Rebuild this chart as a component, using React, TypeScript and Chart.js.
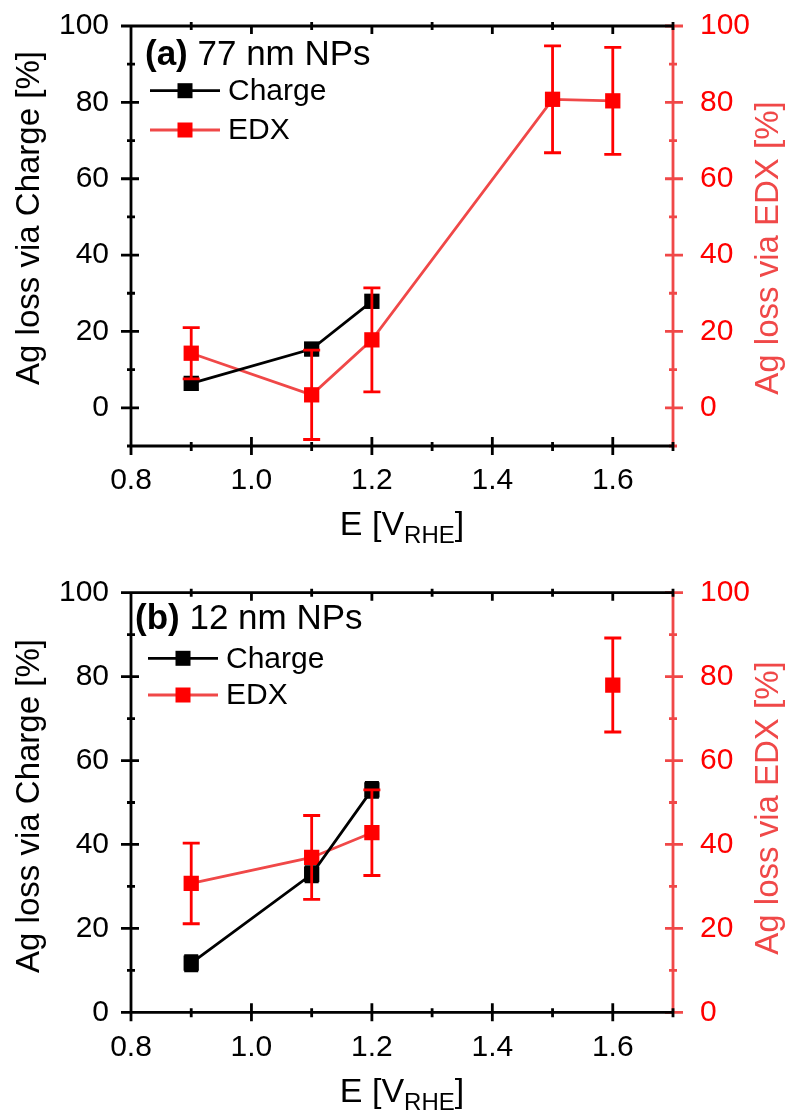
import React, { useEffect, useRef } from "react";
import { Chart, registerables } from "chart.js";

Chart.register(...registerables);

const FONT = '"Liberation Sans", Arial, Helvetica, sans-serif';

// Axis ticks
const X_MAJOR = [0.8, 1.0, 1.2, 1.4, 1.6];
const X_MINOR = [0.9, 1.1, 1.3, 1.5, 1.7];
const Y_MAJOR = [0, 20, 40, 60, 80, 100];
const Y_MINOR_A = [-10, 10, 30, 50, 70, 90];
const Y_MINOR_B = [10, 30, 50, 70, 90];

// Panel (a) 77 nm NPs
const A_CHARGE_E = [0.9, 1.1, 1.2];
const A_CHARGE = [6.4, 15.4, 27.9];
const A_CHARGE_ERR = [1.5, 1.5, 1.5];
const A_EDX_E = [0.9, 1.1, 1.2, 1.5, 1.6];
const A_EDX = [14.3, 3.4, 17.8, 80.8, 80.4];
const A_EDX_ERR = [6.7, 11.7, 13.6, 14.0, 14.0];

// Panel (b) 12 nm NPs
const B_CHARGE_E = [0.9, 1.1, 1.2];
const B_CHARGE = [11.7, 32.9, 53.0];
const B_CHARGE_ERR = [1.8, 1.8, 1.8];
const B_EDX_E = [0.9, 1.1, 1.2, 1.6];
const B_EDX = [30.7, 36.9, 42.8, 78.0];
const B_EDX_ERR = [9.6, 10.0, 10.2, 11.2];
const B_EDX_JOINED = 3; // number of leading EDX points joined by a line

const W = 790;
const PLOT_L = 131;
const PLOT_R = 673;
const RED = "#ff0000";
const RED_SOFT = "#f04848";
const LW = 2.8;

type PanelCfg = {
  top: number;
  height: number;
  plotTop: number;
  plotBottom: number;
  yMin: number;
  yMinor: number[];
  tag: string;
  tagRest: string;
  tagX: number;
  tagBaseline: number;
  legendX: number;
  legendY1: number;
  legendY2: number;
  leftTitleCenter: number;
  rightTitleCenter: number;
  xTitleBaseline: number;
  chargeE: number[];
  charge: number[];
  chargeErr: number[];
  edxE: number[];
  edx: number[];
  edxErr: number[];
  edxJoined: number;
};

function pts(xs: number[], ys: number[]) {
  return xs.map((x, i) => ({ x, y: ys[i] }));
}

function Panel({ cfg }: { cfg: PanelCfg }) {
  const ref = useRef<HTMLCanvasElement | null>(null);
  useEffect(() => {
    const canvas = ref.current;
    if (!canvas) return;
    const ctx = canvas.getContext("2d");
    if (!ctx) return;

    const edxPts = pts(cfg.edxE, cfg.edx);
    const datasets: any[] = [
      {
        label: "Charge",
        data: pts(cfg.chargeE, cfg.charge),
        yAxisID: "y",
        borderColor: "#000",
        borderWidth: LW,
        pointStyle: "rect",
        pointRadius: 10.8,
        pointBackgroundColor: "#000",
        pointBorderWidth: 0,
        fill: false,
        tension: 0,
      },
      {
        label: "EDX",
        data: edxPts.slice(0, cfg.edxJoined),
        yAxisID: "y2",
        borderColor: RED_SOFT,
        borderWidth: LW,
        pointStyle: "rect",
        pointRadius: 10.8,
        pointBackgroundColor: RED,
        pointBorderWidth: 0,
        fill: false,
        tension: 0,
      },
    ];
    if (edxPts.length > cfg.edxJoined) {
      datasets.push({
        label: "EDX2",
        data: edxPts.slice(cfg.edxJoined),
        yAxisID: "y2",
        showLine: false,
        borderColor: RED_SOFT,
        pointStyle: "rect",
        pointRadius: 10.8,
        pointBackgroundColor: RED,
        pointBorderWidth: 0,
      });
    }

    const deco = {
      id: "deco",
      afterDatasetsDraw(chart: any) {
        const c = chart.ctx;
        const xs = chart.scales.x;
        const yl = chart.scales.y;
        const yr = chart.scales.y2;
        c.save();
        const bars = (e: number[], v: number[], err: number[], sc: any, col: string, cap: number) => {
          c.strokeStyle = col;
          c.lineWidth = LW;
          for (let i = 0; i < e.length; i++) {
            const px = xs.getPixelForValue(e[i]);
            const p1 = sc.getPixelForValue(v[i] + err[i]);
            const p2 = sc.getPixelForValue(v[i] - err[i]);
            c.beginPath();
            c.moveTo(px, p1);
            c.lineTo(px, p2);
            c.moveTo(px - cap, p1);
            c.lineTo(px + cap, p1);
            c.moveTo(px - cap, p2);
            c.lineTo(px + cap, p2);
            c.stroke();
          }
        };
        bars(cfg.chargeE, cfg.charge, cfg.chargeErr, yl, "#000", 7);
        bars(cfg.edxE, cfg.edx, cfg.edxErr, yr, RED, 8.5);
        c.restore();
      },
      afterDraw(chart: any) {
        const c = chart.ctx;
        const xs = chart.scales.x;
        const yl = chart.scales.y;
        const a = chart.chartArea;
        const L = a.left, R = a.right, T = a.top, B = a.bottom;
        c.save();
        c.lineCap = "butt";
        c.lineWidth = LW;
        // right axis (red)
        c.strokeStyle = RED_SOFT;
        c.beginPath();
        c.moveTo(R, T);
        c.lineTo(R, B);
        for (const v of Y_MAJOR) {
          const py = yl.getPixelForValue(v);
          c.moveTo(R - 8, py);
          c.lineTo(R + 10, py);
        }
        for (const v of cfg.yMinor) {
          const py = yl.getPixelForValue(v);
          c.moveTo(R - 4, py);
          c.lineTo(R + 4, py);
        }
        c.stroke();
        // black frame: bottom, top, left
        c.strokeStyle = "#000";
        c.beginPath();
        c.moveTo(L - 1, B);
        c.lineTo(R, B);
        c.moveTo(L - 1, T);
        c.lineTo(R - 1, T);
        c.moveTo(L, T);
        c.lineTo(L, B);
        for (const v of X_MAJOR) {
          const px = xs.getPixelForValue(v);
          c.moveTo(px, B - 9);
          c.lineTo(px, B + 9);
          c.moveTo(px, T);
          c.lineTo(px, T + 8);
        }
        for (const v of X_MINOR) {
          const px = xs.getPixelForValue(v);
          c.moveTo(px, B - 4);
          c.lineTo(px, B + 5);
          c.moveTo(px, T - 4);
          c.lineTo(px, T + 4);
        }
        for (const v of Y_MAJOR) {
          const py = yl.getPixelForValue(v);
          c.moveTo(L - 10, py);
          c.lineTo(L + 8, py);
        }
        for (const v of cfg.yMinor) {
          const py = yl.getPixelForValue(v);
          c.moveTo(L - 4, py);
          c.lineTo(L + 4, py);
        }
        c.stroke();

        // panel tag
        c.fillStyle = "#000";
        c.textAlign = "left";
        c.textBaseline = "alphabetic";
        c.font = `bold 35px ${FONT}`;
        c.fillText(cfg.tag, cfg.tagX, cfg.tagBaseline);
        const tw = c.measureText(cfg.tag).width;
        c.font = `35px ${FONT}`;
        c.fillText(cfg.tagRest, cfg.tagX + tw, cfg.tagBaseline);

        // legend
        const lg = (y: number, lineCol: string, markCol: string, text: string) => {
          c.strokeStyle = lineCol;
          c.lineWidth = LW;
          c.beginPath();
          c.moveTo(cfg.legendX, y);
          c.lineTo(cfg.legendX + 70, y);
          c.stroke();
          c.fillStyle = markCol;
          c.fillRect(cfg.legendX + 35 - 7.5, y - 7.5, 15, 15);
          c.fillStyle = "#000";
          c.font = `30px ${FONT}`;
          c.textBaseline = "middle";
          c.fillText(text, cfg.legendX + 78, y + 1);
        };
        lg(cfg.legendY1, "#000", "#000", "Charge");
        lg(cfg.legendY2, RED_SOFT, RED, "EDX");

        // axis titles
        c.textBaseline = "alphabetic";
        c.textAlign = "center";
        c.font = `33px ${FONT}`;
        c.save();
        c.translate(39, cfg.leftTitleCenter);
        c.rotate(-Math.PI / 2);
        c.fillStyle = "#000";
        c.fillText("Ag loss via Charge [%]", 0, 0);
        c.restore();
        c.save();
        c.translate(778, cfg.rightTitleCenter);
        c.rotate(-Math.PI / 2);
        c.fillStyle = RED_SOFT;
        c.fillText("Ag loss via EDX [%]", 0, 0);
        c.restore();

        // x title E [V_RHE]
        c.textAlign = "left";
        c.fillStyle = "#000";
        const big = `34px ${FONT}`;
        const small = `24px ${FONT}`;
        c.font = big;
        const w1 = c.measureText("E [V").width;
        const w3 = c.measureText("]").width;
        c.font = small;
        const w2 = c.measureText("RHE").width;
        const total = w1 + w2 + w3;
        const x0 = (L + R) / 2 - total / 2;
        c.font = big;
        c.fillText("E [V", x0, cfg.xTitleBaseline);
        c.font = small;
        c.fillText("RHE", x0 + w1, cfg.xTitleBaseline + 8);
        c.font = big;
        c.fillText("]", x0 + w1 + w2, cfg.xTitleBaseline);
        c.restore();
      },
    };

    const tickFont = { family: FONT, size: 30 };
    const chart = new Chart(ctx, {
      type: "line",
      data: { datasets },
      options: {
        animation: false,
        responsive: false,
        maintainAspectRatio: false,
        layout: { padding: { top: cfg.plotTop, left: 0, right: 0, bottom: 0 } },
        plugins: { legend: { display: false }, tooltip: { enabled: false } },
        scales: {
          x: {
            type: "linear",
            min: 0.8,
            max: 1.7,
            grid: { display: false },
            border: { display: false },
            afterBuildTicks: (s: any) => {
              s.ticks = X_MAJOR.map((v) => ({ value: v }));
            },
            afterFit: (s: any) => {
              s.height = cfg.height - cfg.plotBottom;
              s.paddingLeft = 0;
              s.paddingRight = 0;
            },
            ticks: {
              color: "#000",
              font: tickFont,
              padding: 9,
              maxRotation: 0,
              autoSkip: false,
              callback: (v: any) => Number(v).toFixed(1),
            },
          },
          y: {
            type: "linear",
            position: "left",
            min: cfg.yMin,
            max: 100,
            grid: { display: false },
            border: { display: false },
            afterBuildTicks: (s: any) => {
              s.ticks = Y_MAJOR.map((v) => ({ value: v }));
            },
            afterFit: (s: any) => {
              s.width = PLOT_L;
              s.paddingTop = 0;
              s.paddingBottom = 0;
            },
            ticks: { color: "#000", font: tickFont, padding: 14, autoSkip: false },
          },
          y2: {
            type: "linear",
            position: "right",
            min: cfg.yMin,
            max: 100,
            grid: { display: false },
            border: { display: false },
            afterBuildTicks: (s: any) => {
              s.ticks = Y_MAJOR.map((v) => ({ value: v }));
            },
            afterFit: (s: any) => {
              s.width = W - PLOT_R;
              s.paddingTop = 0;
              s.paddingBottom = 0;
            },
            ticks: { color: RED, font: tickFont, padding: 19, autoSkip: false },
          },
        },
      } as any,
      plugins: [deco],
    });
    return () => chart.destroy();
  }, [cfg]);

  return (
    <canvas
      ref={ref}
      width={W}
      height={cfg.height}
      style={{ position: "absolute", left: 0, top: cfg.top, width: W, height: cfg.height }}
    />
  );
}

const PANEL_A: PanelCfg = {
  top: 0,
  height: 557,
  plotTop: 26,
  plotBottom: 446,
  yMin: -10,
  yMinor: Y_MINOR_A,
  tag: "(a)",
  tagRest: " 77 nm NPs",
  tagX: 145,
  tagBaseline: 65,
  legendX: 150,
  legendY1: 90.7,
  legendY2: 130,
  leftTitleCenter: 218,
  rightTitleCenter: 248,
  xTitleBaseline: 535,
  chargeE: A_CHARGE_E,
  charge: A_CHARGE,
  chargeErr: A_CHARGE_ERR,
  edxE: A_EDX_E,
  edx: A_EDX,
  edxErr: A_EDX_ERR,
  edxJoined: A_EDX_E.length,
};

const PANEL_B: PanelCfg = {
  top: 557,
  height: 557,
  plotTop: 35.7,
  plotBottom: 455.3,
  yMin: 0,
  yMinor: Y_MINOR_B,
  tag: "(b)",
  tagRest: " 12 nm NPs",
  tagX: 135,
  tagBaseline: 72,
  legendX: 148,
  legendY1: 101.3,
  legendY2: 138,
  leftTitleCenter: 249,
  rightTitleCenter: 251,
  xTitleBaseline: 544.7,
  chargeE: B_CHARGE_E,
  charge: B_CHARGE,
  chargeErr: B_CHARGE_ERR,
  edxE: B_EDX_E,
  edx: B_EDX,
  edxErr: B_EDX_ERR,
  edxJoined: B_EDX_JOINED,
};

export default function App() {
  return (
    <div
      style={{
        position: "fixed",
        left: 0,
        top: 0,
        width: W,
        height: 1114,
        background: "#fff",
        overflow: "hidden",
      }}
    >
      <Panel cfg={PANEL_A} />
      <Panel cfg={PANEL_B} />
    </div>
  );
}
